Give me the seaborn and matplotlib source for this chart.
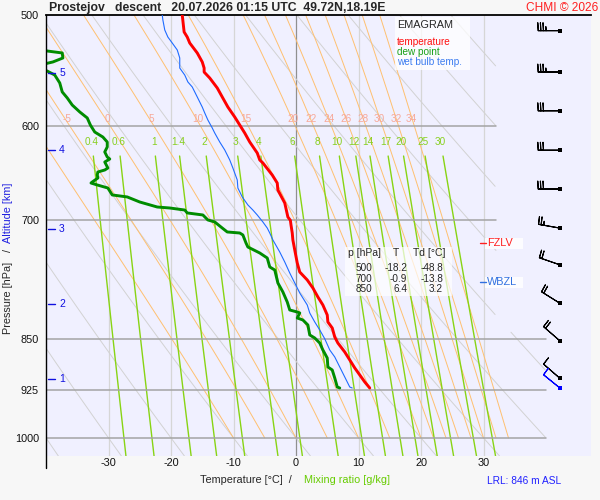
import numpy as np
import pandas as pd
import matplotlib
matplotlib.use("Agg")
import matplotlib.pyplot as plt
from matplotlib.patches import Rectangle
from matplotlib.lines import Line2D
from matplotlib.ticker import NullLocator
import seaborn as sns

# ---------------- data ----------------
temp_p = [500, 514.1, 518.4, 523.5, 532.1, 540.0, 545.4, 549.0, 554.4, 563.5,
          571.9, 581.4, 591.0, 598.8, 606.7, 615.7, 626.9, 634.1, 637.2, 649.9,
          658.5, 666.1, 680.4, 696.2, 700.0, 705.4, 714.7, 722.9, 734.9, 750.7,
          761.9, 771.9, 782.1, 793.7, 804.2, 817.5, 826.9, 835.1, 847.5, 855.9,
          868.6, 880.0, 891.6, 901.9, 912.3, 921.4]
temp_t = [-18.2, -17.9, -17.4, -17.0, -15.8, -15.0, -14.7, -14.7, -13.8, -12.6,
          -11.8, -10.9, -9.8, -9.0, -8.2, -7.4, -6.2, -5.8, -5.3, -3.8,
          -3.0, -2.9, -1.8, -1.3, -0.9, -0.8, -0.6, -0.5, -0.2, 0.2,
          0.6, 1.8, 2.7, 3.5, 4.3, 5.0, 5.1, 5.8, 6.2, 6.7,
          7.8, 8.6, 9.4, 10.2, 11.0, 11.8]

dew_p = [500, 515, 528, 530.4, 532.1, 536.5, 540.0, 544.0, 548.1, 551.7,
         558.9, 567.2, 572.8, 579.5, 586.1, 591.9, 598.8, 605.7, 610.7, 615.7,
         620.7, 625.8, 631.0, 633.1, 636.2, 642.5, 644.6, 646.7, 649.9, 653.1,
         657.4, 658.5, 660.6, 663.9, 671.5, 673.7, 679.3, 684.9, 686.0, 688.3,
         691.6, 693.9, 699.6, 701.9, 708.9, 713.5, 714.7, 717.0, 726.5, 731.3,
         738.5, 744.6, 755.6, 759.4, 775.7, 787.2, 800.3, 810.8, 813.5, 814.8,
         821.5, 824.2, 831.0, 844.7, 848.9, 855.9, 865.7, 877.2, 890.2, 894.6,
         906.4, 919.9, 921.4]
dew_t = [-48.8, -45.0, -41.0, -39.8, -37.4, -37.3, -38.9, -42.0, -39.8, -38.6,
         -37.8, -37.4, -36.6, -35.8, -34.6, -33.4, -32.9, -32.2, -30.9, -30.2,
         -30.2, -30.6, -30.2, -29.8, -30.6, -30.1, -30.6, -31.7, -31.8, -31.7,
         -32.6, -32.8, -31.8, -30.1, -29.4, -27.0, -25.0, -22.2, -20.2, -17.8,
         -17.4, -14.9, -14.1, -13.0, -11.8, -11.0, -9.0, -8.5, -8.0, -7.7,
         -5.8, -4.6, -4.2, -3.4, -2.9, -2.1, -1.4, -1.0, 0.2, 0.6,
         0.2, 1.1, 1.9, 2.2, 3.0, 3.8, 4.3, 5.0, 5.1, 5.8,
         6.2, 6.6, 7.0]

wb_p = [500, 504.1, 512.4, 518.4, 523.5, 529.5, 536.5, 545.4, 551.7, 558.0,
        562.6, 571.9, 581.4, 587.1, 593.9, 601.7, 606.7, 615.7, 623.8, 634.1,
        642.5, 655.2, 663.9, 673.7, 682.6, 688.3, 693.9, 701.9, 708.9, 714.7,
        722.9, 737.3, 749.5, 763.1, 775.7, 788.5, 804.2, 814.8, 826.9, 837.8,
        850.0, 865.7, 875.7, 890.2, 904.9, 919.9, 921.4]
wb_t = [-21.4, -21.3, -21.0, -20.5, -19.8, -19.0, -18.6, -18.6, -17.8, -17.3,
        -16.6, -15.8, -15.0, -14.6, -14.1, -13.4, -13.0, -12.2, -11.4, -10.6,
        -10.1, -9.4, -9.3, -8.6, -7.7, -6.9, -6.2, -5.3, -4.6, -4.2,
        -3.7, -2.6, -1.8, -1.0, -0.2, 0.6, 1.8, 2.2, 3.0, 3.8,
        4.6, 5.4, 6.2, 7.0, 7.8, 8.6, 9.0]

wind_p = [513, 549, 585, 624, 665, 709, 753, 802, 853, 907]
wind_dir = [270, 270, 270, 270, 270, 280, 289, 302, 311, 311]
wind_spd = [35, 35, 30, 30, 30, 25, 20, 20, 20, 10]
sfc_p = [921]
sfc_dir = [309]
sfc_spd = [10]

alt_km = [1, 2, 3, 4, 5]
alt_p = [907.9, 802.9, 710.0, 623.8, 549.9]

p_levels = [500, 600, 700, 850, 925, 1000]
t_ticks = [-30, -20, -10, 0, 10, 20, 30]
moist_vals = [-10, -5, 0, 5, 10, 15, 20, 22, 24, 26, 28, 30, 32, 34]
mix_vals = [0.4, 0.6, 1, 1.4, 2, 3, 4, 6, 8, 10, 12, 14, 17, 20, 25, 30]
dry_vals = list(range(-40, 101, 10))

table_p = ["500", "700", "850"]
table_t = ["-18.2", "-0.9", "6.4"]
table_td = ["-48.8", "-13.8", "3.2"]

# ---------------- thermodynamic helpers (diagram background) ----------------
def es(tc):
    return 6.112 * np.exp(17.67 * tc / (tc + 243.5))

def td_from_w(w, p):
    e = w * p / (622.0 + w)
    lg = np.log(e / 6.112)
    return 243.5 * lg / (17.67 - lg)

def moist_profile(tw, pgrid):
    Rd, cp, Lv, eps = 287.04, 1005.7, 2.501e6, 0.622
    def f(lnp, T):
        p = np.exp(lnp)
        e = es(T - 273.15)
        rs = eps * e / (p - e)
        return (Rd * T + Lv * rs) / (cp + Lv * Lv * rs * eps / (Rd * T * T))
    lnps = np.log(pgrid)
    T = tw + 273.15
    out = [T]
    for i in range(len(lnps) - 1):
        h = lnps[i + 1] - lnps[i]
        k1 = f(lnps[i], T)
        k2 = f(lnps[i] + h / 2, T + h / 2 * k1)
        k3 = f(lnps[i] + h / 2, T + h / 2 * k2)
        k4 = f(lnps[i + 1], T + h * k3)
        T = T + h / 6 * (k1 + 2 * k2 + 2 * k3 + k4)
        out.append(T)
    return np.array(out) - 273.15

def tmax(p):
    return np.where(np.asarray(p) < 840, 32.0, 40.0)

# ---------------- figure ----------------
sns.set_theme(style="white")
plt.rcParams['font.family'] = ['Liberation Sans', 'DejaVu Sans']

W, H = 600, 500
fx = lambda px: px / W
fy = lambda py: 1 - py / H

fig = plt.figure(figsize=(6, 5), dpi=100, facecolor='#F7F7F7')
L, R, TOP, BOT = 46, 591, 15, 456
ax = fig.add_axes([fx(L), fy(BOT), (R - L) / W, (BOT - TOP) / H])
ax.set_facecolor('#F0F0FF')
ax.set_yscale('log')
ax.set_xlim(-40, 47.2)
ax.set_ylim(1030, 500)

# isotherms
for t in t_ticks:
    ax.plot([t, t], [500, 1030], color='#909090' if t == 0 else '#D6D6D6',
            lw=0.9, zorder=1)

# dry adiabats
pp = np.exp(np.linspace(np.log(500), np.log(1030), 400))
for th in dry_vals:
    T = (th + 273.15) * (pp / 1000.0) ** 0.2857 - 273.15
    T = np.where(T <= tmax(pp), T, np.nan)
    ax.plot(T, pp, color='#D2D2D2', lw=0.7, zorder=1)

# moist adiabats
pm = np.exp(np.linspace(np.log(1000), np.log(500), 400))
for tw in moist_vals:
    T = moist_profile(tw, pm)
    T = np.where(T <= tmax(pm), T, np.nan)
    ax.plot(T, pm, color='#FFC070', lw=0.7, zorder=1.2)
    t600 = moist_profile(tw, np.exp(np.linspace(np.log(1000), np.log(600), 200)))[-1]
    if t600 > -39:
        ax.annotate(str(tw), (t600, 600), xytext=(-2, 5.2), textcoords='offset points',
                    ha='center', va='center', color='#F7A898', fontsize=7.2, zorder=3)

# mixing ratio lines
pw = np.exp(np.linspace(np.log(630), np.log(1030), 100))
for w in mix_vals:
    T = td_from_w(w, pw)
    ax.plot(T, pw, color='#88D414', lw=1.0, zorder=1.4)
    tl = td_from_w(w, 615.7)
    ax.text(tl, 615.7, f"{w:g}", ha='center', va='center', color='#88D020',
            fontsize=7.2, zorder=3)

# pressure lines
for p in p_levels[1:]:
    ax.plot([-40, float(tmax(p))], [p, p], color='#A4A4A4', lw=1.1, zorder=1.6)

# profiles (seaborn)
df_t = pd.DataFrame({'T': temp_t, 'p': temp_p})
df_d = pd.DataFrame({'T': dew_t, 'p': dew_p})
df_w = pd.DataFrame({'T': wb_t, 'p': wb_p})
sns.lineplot(data=df_w, x='T', y='p', sort=False, estimator=None, orient='y',
             color='#1E6BFF', lw=0.8, ax=ax, legend=False, zorder=4)
sns.lineplot(data=df_d, x='T', y='p', sort=False, estimator=None, orient='y',
             color='#008C00', lw=2.1, ax=ax, legend=False, zorder=5)
sns.lineplot(data=df_t, x='T', y='p', sort=False, estimator=None, orient='y',
             color='#FF0000', lw=2.1, ax=ax, legend=False, zorder=6)
ax.set_xlim(-40, 47.2)
ax.set_ylim(1030, 500)

# altitude marks
for km, p in zip(alt_km, alt_p):
    ax.plot([-39.7, -38.6], [p, p], color='#1010E0', lw=1.0, zorder=6)
    ax.text(-37.9, p, str(km), color='#1010E0', fontsize=7.5, ha='left',
            va='center', zorder=6)

# wind barbs
xb = 42.24
wd = np.deg2rad(wind_dir)
u = -np.array(wind_spd) * np.sin(wd)
v = -np.array(wind_spd) * np.cos(wd)
bsizes = dict(spacing=0.12, height=0.36, width=0.04, emptybarb=0.0)
ax.barbs(np.full(len(wind_p), xb), wind_p, u, v, length=5.6, sizes=bsizes,
         color='black', lw=0.8, zorder=7, clip_on=False)
ax.scatter(np.full(len(wind_p), xb), wind_p, marker='s', s=5, color='black',
           zorder=8, linewidths=0)
sd = np.deg2rad(sfc_dir)
us = -np.array(sfc_spd) * np.sin(sd)
vs = -np.array(sfc_spd) * np.cos(sd)
ax.barbs(np.full(1, xb), sfc_p, us, vs, length=5.6, sizes=bsizes,
         color='#0000FF', lw=0.8, zorder=7, clip_on=False)
ax.scatter([xb], sfc_p, marker='s', s=6, color='#0000FF', zorder=8, linewidths=0)

# axes styling
ax.set_xlabel('')
ax.set_ylabel('')
ax.set_yticks(p_levels)
ax.set_yticklabels([str(p) for p in p_levels])
ax.yaxis.set_minor_locator(NullLocator())
ax.set_xticks(t_ticks)
ax.set_xticklabels([str(t) for t in t_ticks])
ax.tick_params(axis='y', length=0, pad=5, labelsize=7.8, colors='#111111')
ax.tick_params(axis='x', length=0, pad=1.5, labelsize=7.8, colors='#111111')
for s in ['right', 'bottom', 'left']:
    ax.spines[s].set_visible(False)
ax.spines['top'].set_color('black')
ax.spines['top'].set_linewidth(1.3)
ax.plot([0, 0], [1, -0.028], transform=ax.transAxes, color='black', lw=1.0,
        clip_on=False, zorder=9)

# titles & labels
fig.text(fx(49), fy(8), "Prostejov   descent   20.07.2026 01:15 UTC  49.72N,18.19E",
         fontweight='bold', fontsize=8.8, ha='left', va='center')
fig.text(fx(598), fy(8), "CHMI © 2026", color='#FF2020', fontsize=8.6,
         ha='right', va='center')
fig.text(fx(292), fy(480), "Temperature [°C]  /", fontsize=7.8, ha='right', va='center')
fig.text(fx(304), fy(480), "Mixing ratio [g/kg]", fontsize=7.8, ha='left',
         va='center', color='#66CC00')
fig.text(fx(8), fy(334), "Pressure [hPa]", rotation=90, fontsize=7.8,
         ha='center', va='bottom')
fig.text(fx(8), fy(251), "/", rotation=90, fontsize=7.8, ha='center', va='center')
fig.text(fx(8), fy(243), "Altitude [km]", rotation=90, fontsize=7.8,
         ha='center', va='bottom', color='#2020E0')
fig.text(fx(561), fy(481), "LRL: 846 m ASL", color='#2020FF', fontsize=7.3,
         ha='right', va='center')

# legend box
fig.add_artist(Rectangle((fx(395), fy(70)), 75 / W, 53 / H, transform=fig.transFigure,
                         facecolor='white', alpha=0.75, edgecolor='none', zorder=10))
fig.text(fx(397), fy(25), "EMAGRAM", fontsize=7.8, ha='left', va='center', zorder=11)
fig.text(fx(397), fy(42), "temperature", fontsize=7.2, color='#FF1010', ha='left',
         va='center', zorder=11)
fig.text(fx(397), fy(52), "dew point", fontsize=7.2, color='#18A018', ha='left',
         va='center', zorder=11)
fig.text(fx(397), fy(62), "wet bulb temp.", fontsize=7.2, color='#3C7CF0', ha='left',
         va='center', zorder=11)

# table box
fig.add_artist(Rectangle((fx(345), fy(296)), 107 / W, 49 / H, transform=fig.transFigure,
                         facecolor='white', alpha=0.7, edgecolor='none', zorder=10))
fig.text(fx(348), fy(253), "p [hPa]", fontsize=7.5, ha='left', va='center', zorder=11)
fig.text(fx(396), fy(253), "T", fontsize=7.5, ha='center', va='center', zorder=11)
fig.text(fx(413), fy(253), "Td [°C]", fontsize=7.5, ha='left', va='center', zorder=11)
for i, (a, b, c) in enumerate(zip(table_p, table_t, table_td)):
    yy = 268 + i * 10.5
    fig.text(fx(372), fy(yy), a, fontsize=7.2, ha='right', va='center', zorder=11)
    fig.text(fx(407), fy(yy), b, fontsize=7.2, ha='right', va='center', zorder=11)
    fig.text(fx(443), fy(yy), c, fontsize=7.2, ha='right', va='center', zorder=11)

# FZLV / WBZL markers
for label, yy, col in [("FZLV", 243, '#FF2020'), ("WBZL", 282, '#3070E0')]:
    fig.add_artist(Rectangle((fx(485), fy(yy + 5.5)), 38 / W, 11 / H,
                             transform=fig.transFigure, facecolor='white', alpha=0.85,
                             edgecolor='none', zorder=10))
    fig.add_artist(Line2D([fx(480), fx(486)], [fy(yy), fy(yy)], transform=fig.transFigure,
                          color=col, lw=1.0, zorder=11))
    fig.text(fx(487), fy(yy), label, fontsize=7.8, color=col, ha='left', va='center',
             zorder=11)

fig.savefig("out.png", dpi=100, facecolor=fig.get_facecolor())
